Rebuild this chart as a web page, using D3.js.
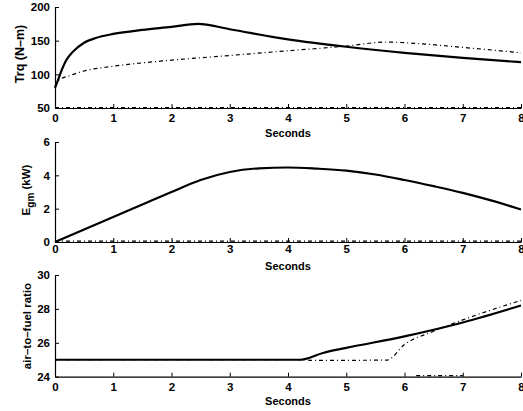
<!DOCTYPE html>
<html>
<head>
<meta charset="utf-8">
<script src="https://cdn.jsdelivr.net/npm/d3@7"></script>
<style>
  body { margin: 0; background: #fff; }
  svg { display: block; }
  text { font-family: "Liberation Sans", Arial, sans-serif; font-weight: bold; fill: #000; }
</style>
</head>
<body>
<div id="grafica"></div>
<script>
  const width = 523, height = 411;

  // tiempo (s) y valores
  const xTicks = [0, 1, 2, 3, 4, 5, 6, 7, 8];

  // panel 1: par (N-m)
  const trqSolido = [[0, 80], [0.05, 91], [0.1, 103], [0.2, 122], [0.3, 133], [0.5, 147], [0.7, 154], [1, 160],
    [1.5, 166], [2, 170.5], [2.45, 175], [3, 167], [4, 152], [5, 141], [6, 132], [7, 124.5], [8, 118]];
  const trqPuntos = [[0, 82], [0.06, 91], [0.25, 98], [0.5, 105], [1, 112], [2, 121], [3, 128], [4, 135],
    [5, 142], [5.7, 148], [6, 147], [7, 140], [8, 132]];
  const trqBase = [[0, 50.5], [8, 50.5]];
  const trqTicks = [50, 100, 150, 200];

  // panel 2: potencia (kW)
  const potSolido = [[0, 0], [0.5, 0.75], [1, 1.5], [1.5, 2.25], [2, 3.0], [2.5, 3.72], [3, 4.2], [3.5, 4.42],
    [4, 4.47], [4.5, 4.4], [5, 4.28], [5.5, 4.05], [6, 3.72], [6.5, 3.35], [7, 2.95], [7.5, 2.48], [8, 1.95]];
  const potPuntos = [[0, 0.05], [8, 0.05]];
  const potTicks = [0, 2, 4, 6];

  // panel 3: relacion aire-combustible
  const afrSolido = [[0, 25], [4.2, 25], [4.6, 25.4], [5, 25.7], [6, 26.38], [7, 27.2], [8, 28.2]];
  const afrPuntos = [[0, 25], [4.3, 25], [4.4, 24.96], [5.7, 24.98], [6, 25.9], [6.5, 26.68], [7, 27.35],
    [7.5, 27.95], [8, 28.5]];
  const afrBase = [[6.2, 24.06], [7, 24.06]];
  const afrTicks = [24, 26, 28, 30];

  const x = d3.scaleLinear().domain([0, 8]).range([55, 521]);

  const svg = d3.select("#grafica").append("svg")
    .attr("width", width)
    .attr("height", height);

  const paneles = [
    { dom: [50, 200], rango: [108, 7], ticks: trqTicks, pad: 6, segY: 137,
      series: [trqSolido, trqPuntos, trqBase], label: "Trq (N–m)", lx: 24, ly: 54, fs: 12.5 },
    { dom: [0, 6], rango: [242, 142], ticks: potTicks, pad: 2.5, segY: 269.5,
      series: [potSolido, potPuntos], label: null, lx: 30, ly: 190, fs: 11.5 },
    { dom: [24, 30], rango: [376.7, 275], ticks: afrTicks, pad: 6.5, segY: 405,
      series: [afrSolido, afrPuntos, afrBase], label: "air–to–fuel ratio", lx: 31, ly: 326, fs: 11.5 }
  ];

  paneles.forEach(p => {
    const y = d3.scaleLinear().domain(p.dom).range(p.rango);
    const g = svg.append("g");

    // ejes
    const ax = g.append("g")
      .attr("transform", `translate(0,${p.rango[0]})`)
      .call(d3.axisBottom(x).tickValues(xTicks).tickFormat(d3.format("d"))
        .tickSizeInner(-4).tickSizeOuter(0).tickPadding(p.pad));
    const ay = g.append("g")
      .attr("transform", `translate(${x(0)},0)`)
      .call(d3.axisLeft(y).tickValues(p.ticks).tickFormat(d3.format("d"))
        .tickSizeInner(-4).tickSizeOuter(0).tickPadding(5));

    [ax, ay].forEach(a => {
      a.select(".domain").attr("stroke", "#000").attr("stroke-width", 1.2);
      a.selectAll(".tick line").attr("stroke", "#000");
      a.selectAll("text").attr("font-size", 11.5).attr("font-family", null);
    });

    const linea = d3.line()
      .x(d => x(d[0]))
      .y(d => y(d[1]))
      .curve(d3.curveMonotoneX);

    p.series.forEach((s, i) => {
      g.append("path")
        .datum(s)
        .attr("d", linea)
        .attr("fill", "none")
        .attr("stroke", "#000")
        .attr("stroke-width", i == 0 ? 2.2 : 1.2)
        .attr("stroke-dasharray", i == 0 ? null : "4,3,1,3");
    });

    g.append("text")
      .attr("x", x(4))
      .attr("y", p.segY)
      .attr("text-anchor", "middle")
      .attr("font-size", 11)
      .text("Seconds");

    const t = g.append("text")
      .attr("transform", `translate(${p.lx},${p.ly}) rotate(-90)`)
      .attr("text-anchor", "middle")
      .attr("font-size", p.fs);
    if (p.label) {
      t.text(p.label);
    } else {
      t.append("tspan").text("E");
      t.append("tspan").attr("dy", 4).attr("font-size", 10).text("gm");
      t.append("tspan").attr("dy", -4).text(" (kW)");
    }
  });
</script>
</body>
</html>
